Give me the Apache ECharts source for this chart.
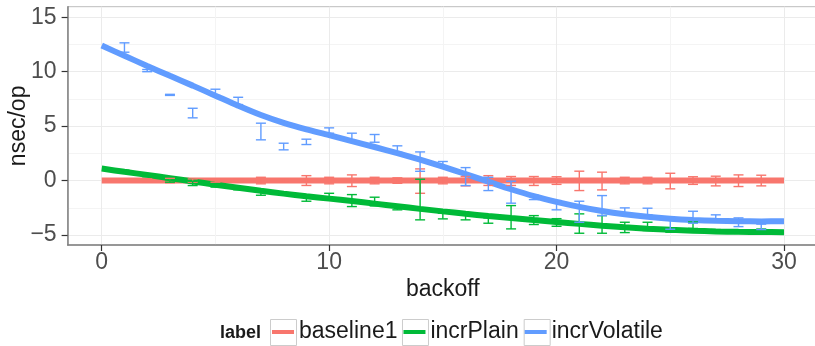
<!DOCTYPE html>
<html><head><meta charset="utf-8">
<script src="https://cdn.jsdelivr.net/npm/echarts@6/dist/echarts.min.js"></script>
<style>html,body{margin:0;padding:0;background:#fff}#c{width:815px;height:346px}</style>
</head><body><div id="c"></div>
<script>
// ---- data ----
const seriesNames = ['baseline1', 'incrPlain', 'incrVolatile'];
const seriesColors = ['#F8766D', '#00BA38', '#619CFF'];

const xTicks = [0, 10, 20, 30];
const xMinorTicks = [5, 15, 25];
const yTicks = [-5, 0, 5, 10, 15];
const yMinorTicks = [-2.5, 2.5, 7.5, 12.5];

// error bars at backoff 1..29
const errX = [1,2,3,4,5,6,7,8,9,10,11,12,13,14,15,16,17,18,19,20,21,22,23,24,25,26,27,28,29];
const baselineLo = [-0.15,-0.15,-0.2,-0.15,-0.15,-0.15,-0.3,-0.15,-0.45,-0.3,-0.55,-0.3,-0.25,-1.17,-0.3,-0.49,-0.45,-0.45,-0.45,-0.35,-0.92,-0.86,-0.3,-0.3,-0.76,-0.35,-0.49,-0.55,-0.49];
const baselineHi = [0.15,0.15,0.2,0.15,0.15,0.15,0.3,0.15,0.45,0.3,0.52,0.3,0.25,1.07,0.3,0.37,0.45,0.37,0.37,0.35,0.86,0.77,0.3,0.3,0.67,0.35,0.4,0.52,0.49];
const plainLo = [0.7,0.35,-0.15,-0.46,-0.6,-0.85,-1.35,-1.35,-1.9,-1.68,-2.39,-2.33,-2.69,-3.61,-3.52,-3.61,-3.92,-4.44,-4.04,-4.2,-4.84,-4.84,-4.78,-4.59,-4.75,-4.4,-4.8,-4.85,-4.85];
const plainHi = [0.95,0.6,0.06,-0.06,-0.3,-0.6,-0.92,-1.1,-1.47,-1.17,-1.29,-1.53,-2.3,0.12,-3.0,-3.12,-3.43,-2.3,-3.22,-3.5,-3.06,-3.22,-3.83,-3.83,-4.4,-3.8,-4.5,-4.55,-4.45];
const volatileLo = [11.79,10.0,7.82,5.76,7.81,6.98,3.74,2.82,3.31,4.35,3.67,3.52,2.6,0.85,1.22,-0.46,-0.92,-2.08,-1.75,-2.69,-3.83,-3.22,-3.06,-3.15,-4.47,-3.92,-3.52,-4.23,-4.5];
const volatileHi = [12.65,10.2,7.92,6.64,8.39,7.65,5.27,3.43,3.8,4.84,4.35,4.23,3.19,2.63,1.75,1.19,0.3,-0.06,-1.35,-1.84,-1.9,-1.38,-2.51,-2.54,-3.5,-2.82,-3.15,-3.43,-4.0];

// smoothed fits at backoff 0..30
const fitX = [0,1,2,3,4,5,6,7,8,9,10,11,12,13,14,15,16,17,18,19,20,21,22,23,24,25,26,27,28,29,30];
const baselineFit = [0,0,0,0,0,0,0,0,0,0,0,0,0,0,0,0,0,0,0,0,0,0,0,0,0,0,0,0,0,0,0];
const plainFit = [1.1,0.8,0.52,0.22,-0.08,-0.38,-0.66,-0.94,-1.2,-1.44,-1.66,-1.88,-2.12,-2.36,-2.6,-2.83,-3.05,-3.26,-3.45,-3.63,-3.8,-3.98,-4.15,-4.3,-4.43,-4.53,-4.61,-4.67,-4.71,-4.73,-4.74];
const volatileFit = [12.4,11.46,10.53,9.62,8.72,7.8,6.88,6.02,5.3,4.7,4.18,3.62,3.08,2.52,1.92,1.28,0.6,-0.1,-0.8,-1.43,-1.96,-2.42,-2.8,-3.1,-3.33,-3.5,-3.62,-3.7,-3.74,-3.75,-3.74];

// ---- build ----
const FONT = '"Liberation Sans", Arial, Helvetica, sans-serif';
const fits = [baselineFit, plainFit, volatileFit];
const los = [baselineLo, plainLo, volatileLo];
const his = [baselineHi, plainHi, volatileHi];
const X_MIN = -1.5, X_MAX = 31.5, Y_MIN = -5.92, Y_MAX = 15.97;

const fmt = v => (v < 0 ? '\u2212' + Math.abs(v) : String(v));

const lineSeries = seriesNames.map((n, i) => ({
  name: n, type: 'line', xAxisIndex: 0, yAxisIndex: 0,
  data: fitX.map((x, j) => [x, fits[i][j]]),
  smooth: 0.3, showSymbol: false, symbol: 'none',
  lineStyle: { color: seriesColors[i], width: 6 },
  itemStyle: { color: seriesColors[i] },
  z: 2, silent: true
}));

const errSeries = seriesNames.map((n, i) => ({
  name: n, type: 'custom', xAxisIndex: 0, yAxisIndex: 0,
  data: errX.map((x, j) => [x, los[i][j], his[i][j]]),
  encode: { x: 0, y: [1, 2] },
  itemStyle: { color: seriesColors[i] },
  z: 3, silent: true,
  renderItem: (params, api) => {
    const x = api.value(0);
    const top = api.coord([x, api.value(2)]);
    const bot = api.coord([x, api.value(1)]);
    const hw = 5;
    const st = { stroke: seriesColors[i], lineWidth: 1.4 };
    return { type: 'group', children: [
      { type: 'line', shape: { x1: top[0], y1: top[1], x2: bot[0], y2: bot[1] }, style: st },
      { type: 'line', shape: { x1: top[0] - hw, y1: top[1], x2: top[0] + hw, y2: top[1] }, style: st },
      { type: 'line', shape: { x1: bot[0] - hw, y1: bot[1], x2: bot[0] + hw, y2: bot[1] }, style: st }
    ]};
  }
}));

const legendText = { fontFamily: FONT, fontSize: 23, lineHeight: 26 };

const option = {
  animation: false,
  backgroundColor: '#ffffff',
  color: seriesColors,
  title: { text: 'label', left: 220, top: 324, padding: 0,
    textStyle: { fontFamily: FONT, fontSize: 18, fontWeight: 'bold', color: '#1a1a1a' } },
  legend: [
    { data: seriesNames.map(n => ({ name: n, icon: 'rect' })), left: 270, top: 319, padding: 0,
      itemWidth: 26, itemHeight: 26, itemGap: 2, selectedMode: false,
      itemStyle: { color: '#ffffff', borderColor: '#cccccc', borderWidth: 1 },
      textStyle: Object.assign({ color: 'rgba(0,0,0,0)' }, legendText) },
    { data: seriesNames.map(n => ({ name: n, icon: 'rect' })), left: 272, top: 319, padding: 0,
      itemWidth: 22, itemHeight: 4, itemGap: 6, selectedMode: false,
      textStyle: Object.assign({ color: '#1a1a1a' }, legendText) }
  ],
  grid: { left: 67.6, right: -3.1, top: 6.7, bottom: 101, show: true,
    borderColor: '#bdbdbd', borderWidth: 1, backgroundColor: 'transparent',
    containLabel: false, outerBoundsMode: 'none' },
  xAxis: [
    { type: 'value', min: X_MIN, max: X_MAX, position: 'bottom',
      name: 'backoff', nameLocation: 'middle', nameGap: 33, nameMoveOverlap: false,
      nameTextStyle: { fontFamily: FONT, fontSize: 23, color: '#1a1a1a' },
      axisLine: { show: true, onZero: false, lineStyle: { color: '#808080', width: 1.5 } },
      axisTick: { show: true, length: 6, customValues: xTicks, lineStyle: { color: '#333333', width: 1.2 } },
      axisLabel: { show: true, customValues: xTicks, margin: 6, formatter: fmt, hideOverlap: false,
        fontFamily: FONT, fontSize: 23, color: '#4d4d4d' },
      splitLine: { show: true, lineStyle: { color: '#ebebeb', width: 1 } } },
    { type: 'value', min: X_MIN, max: X_MAX, position: 'bottom', gridIndex: 0,
      axisLine: { show: false }, axisTick: { show: false, customValues: xMinorTicks },
      axisLabel: { show: false, customValues: xMinorTicks },
      splitLine: { show: true, lineStyle: { color: '#f4f4f4', width: 1 } } }
  ],
  yAxis: [
    { type: 'value', min: Y_MIN, max: Y_MAX, position: 'left',
      name: 'nsec/op', nameLocation: 'middle', nameGap: 37, nameRotate: 90, nameMoveOverlap: false,
      nameTextStyle: { fontFamily: FONT, fontSize: 23, color: '#1a1a1a' },
      axisLine: { show: true, onZero: false, lineStyle: { color: '#808080', width: 1.5 } },
      axisTick: { show: true, length: 6, customValues: yTicks, lineStyle: { color: '#333333', width: 1.2 } },
      axisLabel: { show: true, customValues: yTicks, margin: 11, formatter: fmt, hideOverlap: false,
        fontFamily: FONT, fontSize: 23, color: '#4d4d4d' },
      splitLine: { show: true, lineStyle: { color: '#ebebeb', width: 1 } } },
    { type: 'value', min: Y_MIN, max: Y_MAX, position: 'left', gridIndex: 0,
      axisLine: { show: false }, axisTick: { show: false, customValues: yMinorTicks },
      axisLabel: { show: false, customValues: yMinorTicks },
      splitLine: { show: true, lineStyle: { color: '#f4f4f4', width: 1 } } }
  ],
  series: lineSeries.concat(errSeries)
};

const chart = echarts.init(document.getElementById('c'), null, { renderer: 'canvas' });
chart.setOption(option);
</script>
</body></html>
